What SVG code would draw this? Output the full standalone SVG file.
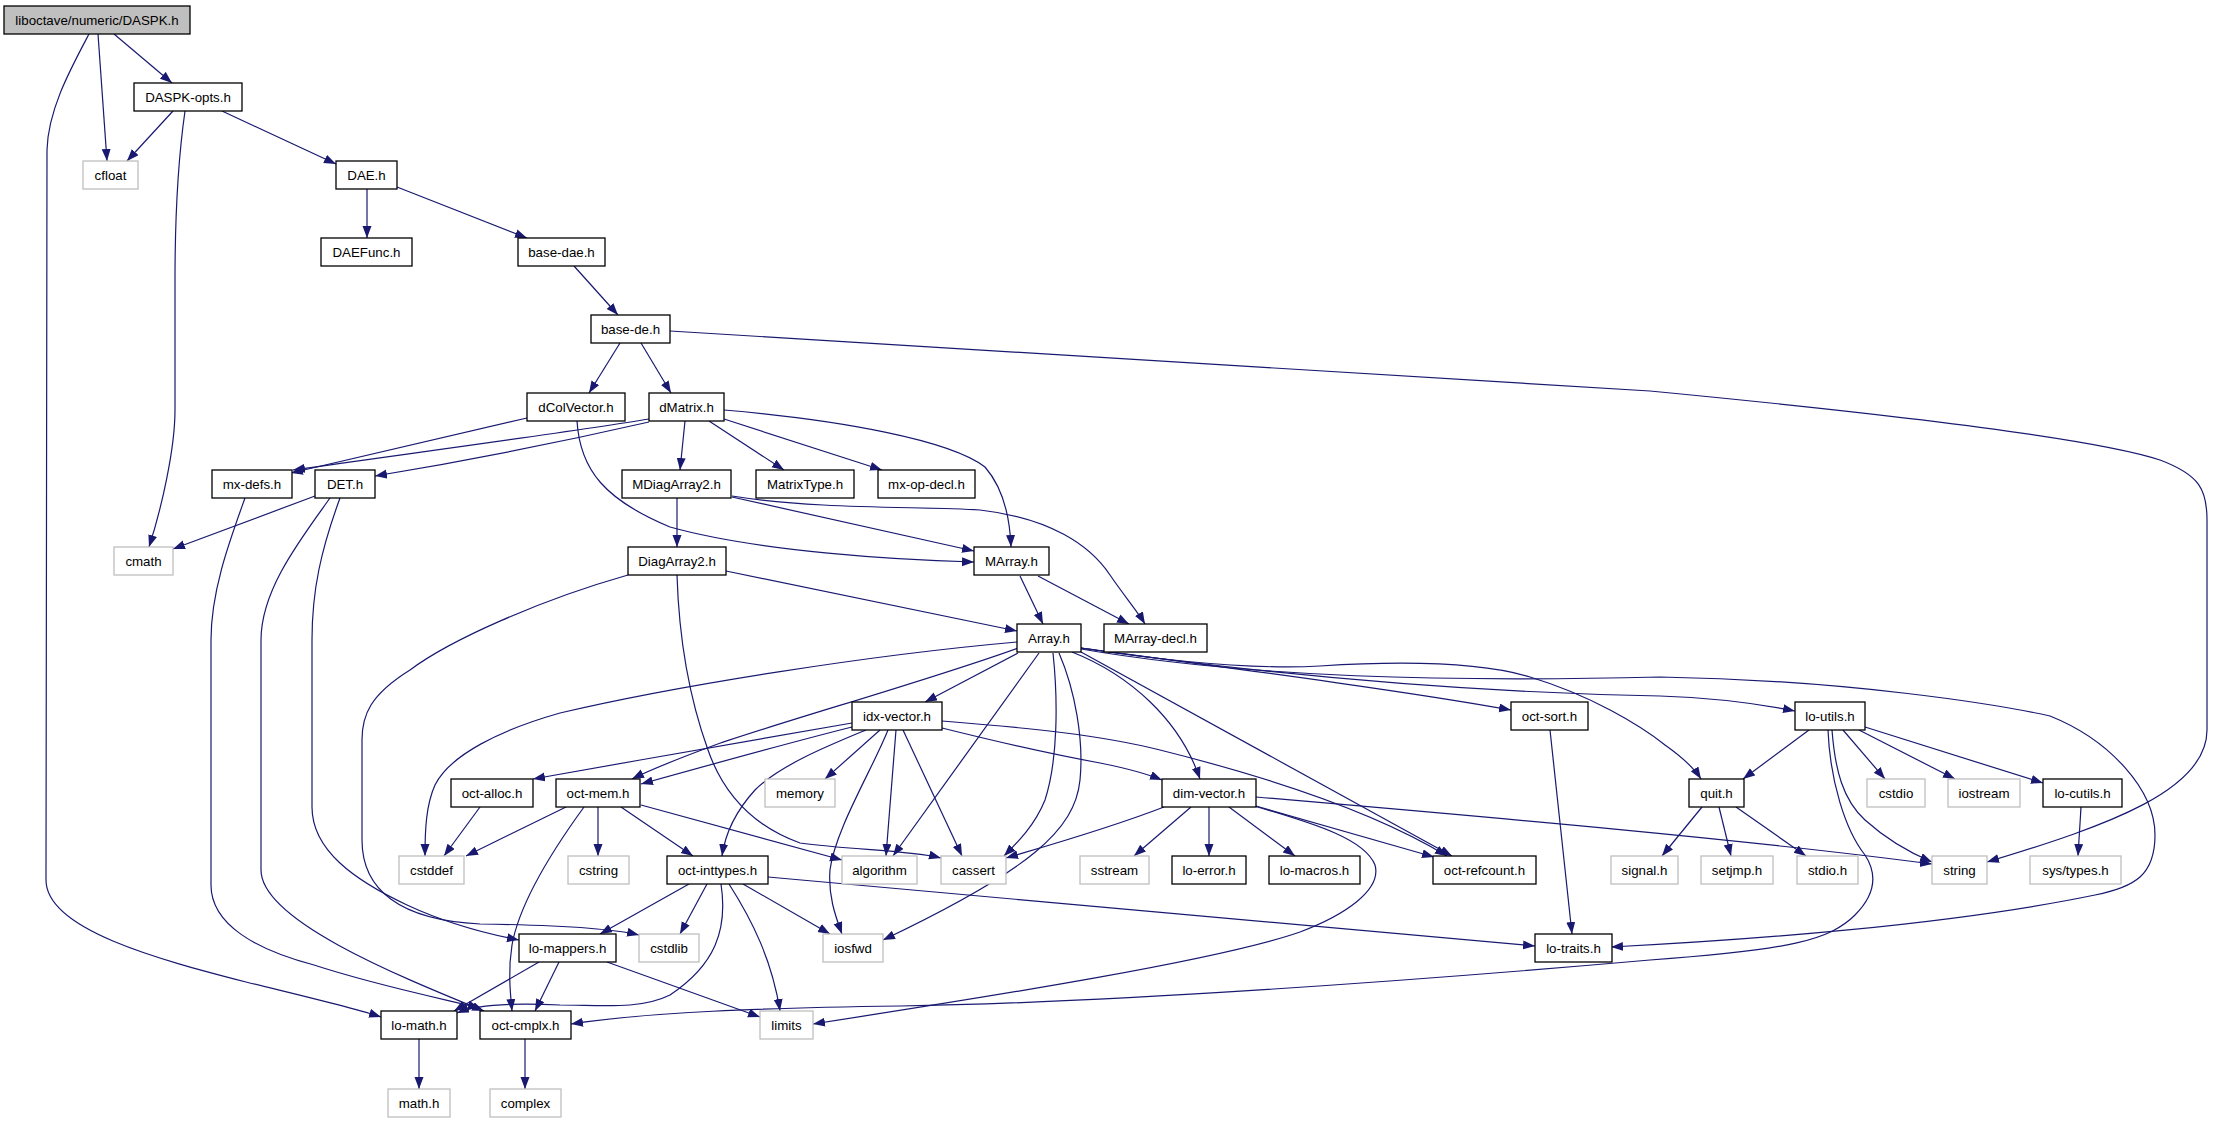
<svg xmlns="http://www.w3.org/2000/svg" width="2215" height="1123" viewBox="0 0 2215 1123">
<defs>
<marker id="ah" markerUnits="userSpaceOnUse" markerWidth="13" markerHeight="10" refX="12" refY="4.5" orient="auto">
<path d="M0,0 L12,4.5 L0,9 z" fill="#191970"/>
</marker>
<style>
.n rect{fill:#fff;stroke:#000;stroke-width:1.3}
.x rect{fill:#fff;stroke:#bfbfbf;stroke-width:1.3}
.r rect{fill:#bfbfbf;stroke:#000;stroke-width:1.3}
text{font-family:"Liberation Sans",Arial,sans-serif;font-size:13.3px;fill:#000;text-anchor:middle}
#edges path{fill:none;stroke:#191970;stroke-width:1.2;marker-end:url(#ah)}
</style>
</defs>
<rect width="2215" height="1123" fill="#fff"/>
<g id="edges">
<path d="M89,34 C70,70 48,110 47,150 L46,880 C46,930 161,960 246,982 C311,998 354,1008 381,1017"/>
<path d="M98,34 L107,161"/>
<path d="M114,34 L172,83"/>
<path d="M173,111 L127,161"/>
<path d="M185,111 C178,160 175,220 175,280 L175,410 C175,450 161,510 149,547"/>
<path d="M222,111 L336,164"/>
<path d="M367,189 L367,238"/>
<path d="M397,187 L527,238"/>
<path d="M574,266 L618,315"/>
<path d="M620,343 L589,393"/>
<path d="M641,343 L671,393"/>
<path d="M670,331 L1650,391 C1900,415 2100,440 2160,460 C2200,475 2207,490 2207,520 L2207,730 C2207,790 2110,825 1987,862"/>
<path d="M527,418 L291,473"/>
<path d="M577,421 C580,470 605,500 670,527 C760,552 900,560 974,562"/>
<path d="M649,419 C570,432 420,452 293,470"/>
<path d="M649,422 C570,440 460,462 375,476"/>
<path d="M685,421 L680,470"/>
<path d="M709,421 L784,470"/>
<path d="M724,419 L882,470"/>
<path d="M724,410 C840,420 950,440 985,467 C1005,490 1010,520 1011,547"/>
<path d="M315,496 L173,549"/>
<path d="M245,498 C230,540 211,590 211,640 L211,885 C211,925 257,950 314,965 C375,985 439,998 480,1008"/>
<path d="M330,498 C300,540 261,590 261,640 L261,870 C261,920 396,975 484,1011"/>
<path d="M340,498 C321,550 312,590 312,640 L312,807 C312,850 354,880 407,905 C450,925 493,935 519,940"/>
<path d="M628,575 C540,600 450,640 410,670 C370,695 362,715 362,740 L362,840 C362,890 400,920 480,924 C560,925 610,928 639,935"/>
<path d="M677,575 C679,640 690,700 708,750 C722,790 750,825 800,843 C850,850 910,850 941,858"/>
<path d="M726,571 L1017,631"/>
<path d="M677,498 L677,547"/>
<path d="M732,497 L974,551"/>
<path d="M732,496 C820,510 920,506 980,510 C1050,518 1090,545 1110,575 C1125,597 1138,612 1145,624"/>
<path d="M1020,576 L1043,624"/>
<path d="M1038,576 L1129,624"/>
<path d="M1017,642 C870,655 680,685 560,713 C500,730 450,755 435,785 C426,805 425,830 425,856"/>
<path d="M1018,648 C930,680 780,722 715,745 C680,758 650,770 632,779"/>
<path d="M1018,653 L925,702"/>
<path d="M1039,653 L893,856"/>
<path d="M1053,653 C1058,700 1058,760 1045,800 C1035,825 1018,842 1004,856"/>
<path d="M1059,653 C1075,690 1084,740 1080,780 C1075,830 1030,870 883,940"/>
<path d="M1072,652 C1130,675 1180,720 1200,779"/>
<path d="M1081,652 L1452,856"/>
<path d="M1081,648 C1230,668 1400,690 1511,710"/>
<path d="M1081,648 C1250,672 1450,692 1660,696 C1720,698 1765,705 1795,711"/>
<path d="M1081,648 C1160,660 1250,670 1320,666 C1400,661 1480,662 1530,677 C1590,695 1640,725 1665,745 C1682,757 1694,768 1701,779"/>
<path d="M1081,649 C1250,678 1450,682 1660,677 C1850,680 2000,705 2050,716 C2110,740 2155,790 2155,835 C2155,875 2135,887 2095,895 C1950,925 1750,940 1611,947"/>
<path d="M852,723 C770,737 640,760 533,779"/>
<path d="M852,727 C800,740 720,762 641,784"/>
<path d="M866,730 C830,745 780,765 755,790 C735,812 725,835 722,856"/>
<path d="M880,730 L825,779"/>
<path d="M888,730 C872,770 835,830 830,870 C828,895 835,915 842,934"/>
<path d="M896,730 L886,856"/>
<path d="M903,730 L962,856"/>
<path d="M942,728 C990,740 1040,752 1100,763 C1125,768 1145,773 1162,780"/>
<path d="M942,721 C1030,728 1100,735 1160,750 C1280,780 1380,815 1447,856"/>
<path d="M480,807 L444,856"/>
<path d="M566,807 L466,856"/>
<path d="M584,807 C560,840 520,900 512,945 C508,970 510,990 512,1011"/>
<path d="M598,807 L598,856"/>
<path d="M621,807 L693,856"/>
<path d="M641,805 L842,860"/>
<path d="M689,884 L600,934"/>
<path d="M707,884 L680,934"/>
<path d="M721,884 C728,930 715,965 670,995 C640,1010 600,1005 560,1005 C520,1003 480,1003 457,1013"/>
<path d="M729,884 C752,920 772,960 780,1011"/>
<path d="M743,884 L830,934"/>
<path d="M768,877 L1535,946"/>
<path d="M539,962 L454,1011"/>
<path d="M559,962 L535,1011"/>
<path d="M607,962 L760,1017"/>
<path d="M419,1039 L419,1089"/>
<path d="M525,1039 L525,1089"/>
<path d="M1164,807 C1110,828 1050,845 1006,858"/>
<path d="M1191,807 L1134,856"/>
<path d="M1209,807 L1209,856"/>
<path d="M1229,807 L1295,856"/>
<path d="M1256,806 L1434,857"/>
<path d="M1254,806 C1320,825 1365,840 1375,865 C1382,890 1345,915 1300,932 C1220,960 1000,995 813,1024"/>
<path d="M1256,797 C1500,818 1750,840 1932,864"/>
<path d="M1550,730 L1572,934"/>
<path d="M1809,730 L1743,779"/>
<path d="M1843,730 L1885,779"/>
<path d="M1859,730 L1955,779"/>
<path d="M1865,727 L2043,783"/>
<path d="M1832,730 C1835,770 1843,800 1865,820 C1885,838 1908,852 1932,862"/>
<path d="M1828,730 C1830,780 1845,830 1865,855 C1878,875 1875,895 1855,915 C1830,940 1790,950 1650,960 C1400,982 1100,1003 900,1006 C760,1008 650,1012 571,1024"/>
<path d="M2081,807 L2078,856"/>
<path d="M1702,807 L1662,856"/>
<path d="M1719,807 L1731,856"/>
<path d="M1736,807 L1806,856"/>
</g>
<g id="n-root" class="r"><rect x="4" y="6" width="186" height="28"/><text x="97" y="25">liboctave/numeric/DASPK.h</text></g>
<g id="n-daspkopts" class="n"><rect x="134" y="83" width="108" height="28"/><text x="188" y="102">DASPK-opts.h</text></g>
<g id="n-cfloat" class="x"><rect x="83" y="161" width="55" height="28"/><text x="110.5" y="180">cfloat</text></g>
<g id="n-dae" class="n"><rect x="336" y="161" width="61" height="28"/><text x="366.5" y="180">DAE.h</text></g>
<g id="n-daefunc" class="n"><rect x="321" y="238" width="91" height="28"/><text x="366.5" y="257">DAEFunc.h</text></g>
<g id="n-basedae" class="n"><rect x="518" y="238" width="87" height="28"/><text x="561.5" y="257">base-dae.h</text></g>
<g id="n-basede" class="n"><rect x="591" y="315" width="79" height="28"/><text x="630.5" y="334">base-de.h</text></g>
<g id="n-dcolvector" class="n"><rect x="527" y="393" width="98" height="28"/><text x="576" y="412">dColVector.h</text></g>
<g id="n-dmatrix" class="n"><rect x="649" y="393" width="75" height="28"/><text x="686.5" y="412">dMatrix.h</text></g>
<g id="n-mxdefs" class="n"><rect x="212" y="470" width="80" height="28"/><text x="252" y="489">mx-defs.h</text></g>
<g id="n-det" class="n"><rect x="315" y="470" width="60" height="28"/><text x="345" y="489">DET.h</text></g>
<g id="n-mdiagarray2" class="n"><rect x="622" y="470" width="109" height="28"/><text x="676.5" y="489">MDiagArray2.h</text></g>
<g id="n-matrixtype" class="n"><rect x="756" y="470" width="98" height="28"/><text x="805" y="489">MatrixType.h</text></g>
<g id="n-mxopdecl" class="n"><rect x="878" y="470" width="97" height="28"/><text x="926.5" y="489">mx-op-decl.h</text></g>
<g id="n-cmath" class="x"><rect x="114" y="547" width="59" height="28"/><text x="143.5" y="566">cmath</text></g>
<g id="n-diagarray2" class="n"><rect x="628" y="547" width="98" height="28"/><text x="677" y="566">DiagArray2.h</text></g>
<g id="n-marray" class="n"><rect x="974" y="547" width="75" height="28"/><text x="1011.5" y="566">MArray.h</text></g>
<g id="n-array" class="n"><rect x="1017" y="624" width="64" height="28"/><text x="1049" y="643">Array.h</text></g>
<g id="n-marraydecl" class="n"><rect x="1104" y="624" width="103" height="28"/><text x="1155.5" y="643">MArray-decl.h</text></g>
<g id="n-idxvector" class="n"><rect x="852" y="702" width="90" height="28"/><text x="897" y="721">idx-vector.h</text></g>
<g id="n-octsort" class="n"><rect x="1511" y="702" width="77" height="28"/><text x="1549.5" y="721">oct-sort.h</text></g>
<g id="n-loutils" class="n"><rect x="1795" y="702" width="70" height="28"/><text x="1830" y="721">lo-utils.h</text></g>
<g id="n-octalloc" class="n"><rect x="451" y="779" width="82" height="28"/><text x="492" y="798">oct-alloc.h</text></g>
<g id="n-octmem" class="n"><rect x="556" y="779" width="84" height="28"/><text x="598" y="798">oct-mem.h</text></g>
<g id="n-memory" class="x"><rect x="765" y="779" width="70" height="28"/><text x="800" y="798">memory</text></g>
<g id="n-dimvector" class="n"><rect x="1162" y="779" width="94" height="28"/><text x="1209" y="798">dim-vector.h</text></g>
<g id="n-quit" class="n"><rect x="1689" y="779" width="55" height="28"/><text x="1716.5" y="798">quit.h</text></g>
<g id="n-cstdio" class="x"><rect x="1867" y="779" width="58" height="28"/><text x="1896" y="798">cstdio</text></g>
<g id="n-iostream" class="x"><rect x="1948" y="779" width="72" height="28"/><text x="1984" y="798">iostream</text></g>
<g id="n-locutils" class="n"><rect x="2043" y="779" width="79" height="28"/><text x="2082.5" y="798">lo-cutils.h</text></g>
<g id="n-cstddef" class="x"><rect x="399" y="856" width="65" height="28"/><text x="431.5" y="875">cstddef</text></g>
<g id="n-cstring" class="x"><rect x="568" y="856" width="61" height="28"/><text x="598.5" y="875">cstring</text></g>
<g id="n-octinttypes" class="n"><rect x="667" y="856" width="101" height="28"/><text x="717.5" y="875">oct-inttypes.h</text></g>
<g id="n-algorithm" class="x"><rect x="842" y="856" width="75" height="28"/><text x="879.5" y="875">algorithm</text></g>
<g id="n-cassert" class="x"><rect x="941" y="856" width="65" height="28"/><text x="973.5" y="875">cassert</text></g>
<g id="n-sstream" class="x"><rect x="1080" y="856" width="69" height="28"/><text x="1114.5" y="875">sstream</text></g>
<g id="n-loerror" class="n"><rect x="1172" y="856" width="74" height="28"/><text x="1209" y="875">lo-error.h</text></g>
<g id="n-lomacros" class="n"><rect x="1269" y="856" width="91" height="28"/><text x="1314.5" y="875">lo-macros.h</text></g>
<g id="n-octrefcount" class="n"><rect x="1433" y="856" width="103" height="28"/><text x="1484.5" y="875">oct-refcount.h</text></g>
<g id="n-signal" class="x"><rect x="1611" y="856" width="67" height="28"/><text x="1644.5" y="875">signal.h</text></g>
<g id="n-setjmp" class="x"><rect x="1701" y="856" width="72" height="28"/><text x="1737" y="875">setjmp.h</text></g>
<g id="n-stdio" class="x"><rect x="1797" y="856" width="61" height="28"/><text x="1827.5" y="875">stdio.h</text></g>
<g id="n-string" class="x"><rect x="1932" y="856" width="55" height="28"/><text x="1959.5" y="875">string</text></g>
<g id="n-systypes" class="x"><rect x="2030" y="856" width="91" height="28"/><text x="2075.5" y="875">sys/types.h</text></g>
<g id="n-lomappers" class="n"><rect x="519" y="934" width="97" height="28"/><text x="567.5" y="953">lo-mappers.h</text></g>
<g id="n-cstdlib" class="x"><rect x="639" y="934" width="60" height="28"/><text x="669" y="953">cstdlib</text></g>
<g id="n-iosfwd" class="x"><rect x="823" y="934" width="60" height="28"/><text x="853" y="953">iosfwd</text></g>
<g id="n-lotraits" class="n"><rect x="1535" y="934" width="77" height="28"/><text x="1573.5" y="953">lo-traits.h</text></g>
<g id="n-lomath" class="n"><rect x="381" y="1011" width="76" height="28"/><text x="419" y="1030">lo-math.h</text></g>
<g id="n-octcmplx" class="n"><rect x="480" y="1011" width="91" height="28"/><text x="525.5" y="1030">oct-cmplx.h</text></g>
<g id="n-limits" class="x"><rect x="760" y="1011" width="53" height="28"/><text x="786.5" y="1030">limits</text></g>
<g id="n-mathh" class="x"><rect x="388" y="1089" width="62" height="28"/><text x="419" y="1108">math.h</text></g>
<g id="n-complex" class="x"><rect x="490" y="1089" width="71" height="28"/><text x="525.5" y="1108">complex</text></g>
</svg>
